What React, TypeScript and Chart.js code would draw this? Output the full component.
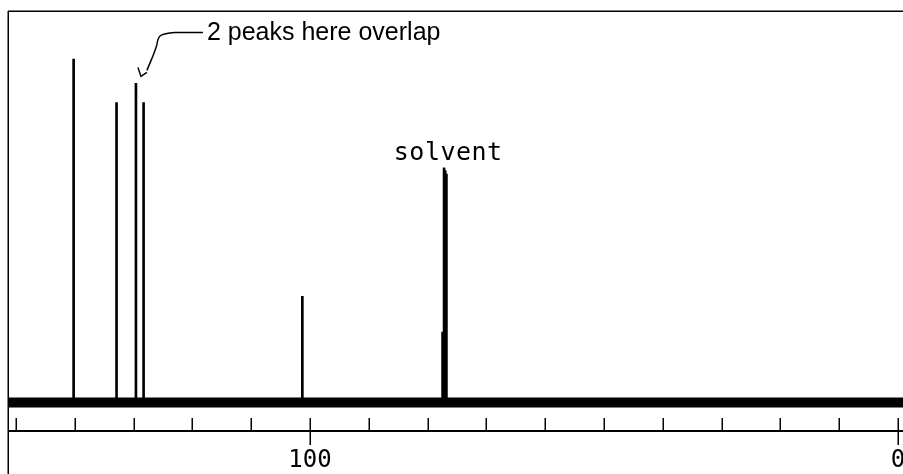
import React, { useEffect, useRef } from "react";
import { Chart, registerables } from "chart.js";

Chart.register(...registerables);

// 13C chemical shifts (ppm) and relative peak heights
const peakShifts = [140.2, 132.9, 129.6, 128.3, 101.3];
const peakHeights = [100, 87.3, 92.9, 87.3, 30.9];

// CDCl3 solvent multiplet
const solventShifts = [77.45, 77.2, 77.0, 76.8];
const solventHeights = [20.5, 68.3, 67.5, 66.5];

// axis range (ppm, drawn high to low) and tick positions
const ppmMin = -0.85;
const ppmMax = 151.19;
const tickValues = [150, 140, 130, 120, 110, 100, 90, 80, 70, 60, 50, 40, 30, 20, 10, 0];
const labelledTicks = [100, 0];

const INK = "#000000";

const spectrumDecor = {
  id: "spectrumDecor",
  afterDraw(chart: any) {
    const { ctx, scales, chartArea } = chart;
    const xs = scales.x;
    const ys = scales.y;
    const axisY = chartArea.bottom;
    ctx.save();
    ctx.strokeStyle = INK;
    ctx.fillStyle = INK;

    // frame (top and left edges)
    ctx.lineWidth = 1.5;
    ctx.beginPath();
    ctx.moveTo(8, 11.25);
    ctx.lineTo(chart.width, 11.25);
    ctx.moveTo(8.25, 11);
    ctx.lineTo(8.25, chart.height);
    ctx.stroke();

    // tick marks rising from the ppm axis
    ctx.lineWidth = 1.5;
    tickValues.forEach((v) => {
      const px = Math.round(xs.getPixelForValue(v)) + 0.25;
      const major = labelledTicks.includes(v);
      ctx.beginPath();
      ctx.moveTo(px, axisY - 13);
      ctx.lineTo(px, major ? axisY + 14 : axisY);
      ctx.stroke();
    });

    // tick labels
    ctx.font = "24px 'DejaVu Sans Mono'";
    ctx.textAlign = "center";
    ctx.textBaseline = "alphabetic";
    labelledTicks.forEach((v) => {
      ctx.fillText(String(v), xs.getPixelForValue(v), 467);
    });

    // solvent label
    ctx.font = "25px 'DejaVu Sans Mono'";
    (ctx as any).letterSpacing = "0.5px";
    ctx.fillText("solvent", xs.getPixelForValue(77.0) + 3, 160);
    (ctx as any).letterSpacing = "0px";

    // callout for the overlapping pair of peaks
    const tipX = xs.getPixelForValue(129.6) + 5;
    const tipY = ys.getPixelForValue(92.9) - 9;
    ctx.lineWidth = 1.5;
    ctx.beginPath();
    ctx.moveTo(tipX + 6, tipY - 4);
    ctx.bezierCurveTo(tipX + 10, tipY - 14, tipX + 14, tipY - 22, tipX + 16, tipY - 30);
    ctx.bezierCurveTo(tipX + 17, tipY - 38, tipX + 18, tipY - 41, tipX + 34, tipY - 42);
    ctx.lineTo(tipX + 62, tipY - 42);
    ctx.stroke();
    ctx.beginPath();
    ctx.moveTo(tipX - 3, tipY - 7);
    ctx.lineTo(tipX, tipY + 2);
    ctx.lineTo(tipX + 6, tipY - 2);
    ctx.stroke();

    ctx.font = "25px 'Liberation Sans'";
    ctx.textAlign = "left";
    ctx.fillText("2 peaks here overlap", tipX + 66, tipY - 34);

    ctx.restore();
  },
};

export default function App() {
  const canvasRef = useRef<HTMLCanvasElement | null>(null);

  useEffect(() => {
    const canvas = canvasRef.current;
    if (!canvas) return;

    const peaks = peakShifts.map((x, i) => ({ x, y: peakHeights[i] }));
    const solvent = solventShifts.map((x, i) => ({ x, y: solventHeights[i] }));

    const chart = new Chart(canvas, {
      type: "bar",
      data: {
        datasets: [
          {
            type: "line",
            label: "baseline",
            data: [
              { x: ppmMax, y: 0 },
              { x: ppmMin, y: 0 },
            ],
            borderColor: INK,
            borderWidth: 10,
            pointRadius: 0,
            order: 2,
          } as any,
          {
            label: "peaks",
            data: [...peaks, ...solvent] as any,
            backgroundColor: INK,
            borderWidth: 0,
            barThickness: 2,
            grouped: false,
            order: 1,
          },
        ],
      },
      options: {
        animation: false,
        responsive: true,
        maintainAspectRatio: false,
        events: [],
        layout: { padding: { left: 9, top: 12, right: 0, bottom: 0 } },
        plugins: {
          legend: { display: false },
          tooltip: { enabled: false },
        },
        scales: {
          x: {
            type: "linear",
            reverse: true,
            offset: false,
            min: ppmMin,
            max: ppmMax,
            grid: { display: false, drawTicks: false, offset: false },
            ticks: { display: false },
            border: { display: true, color: INK, width: 2 },
            afterFit: (s: any) => {
              s.height = 43;
            },
          },
          y: {
            display: false,
            min: -8.3,
            max: 113.68,
          },
        },
      },
      plugins: [spectrumDecor],
    });

    return () => chart.destroy();
  }, []);

  return (
    <div style={{ position: "fixed", left: 0, top: 0, width: 903, height: 474, background: "#ffffff" }}>
      <canvas ref={canvasRef} />
    </div>
  );
}
